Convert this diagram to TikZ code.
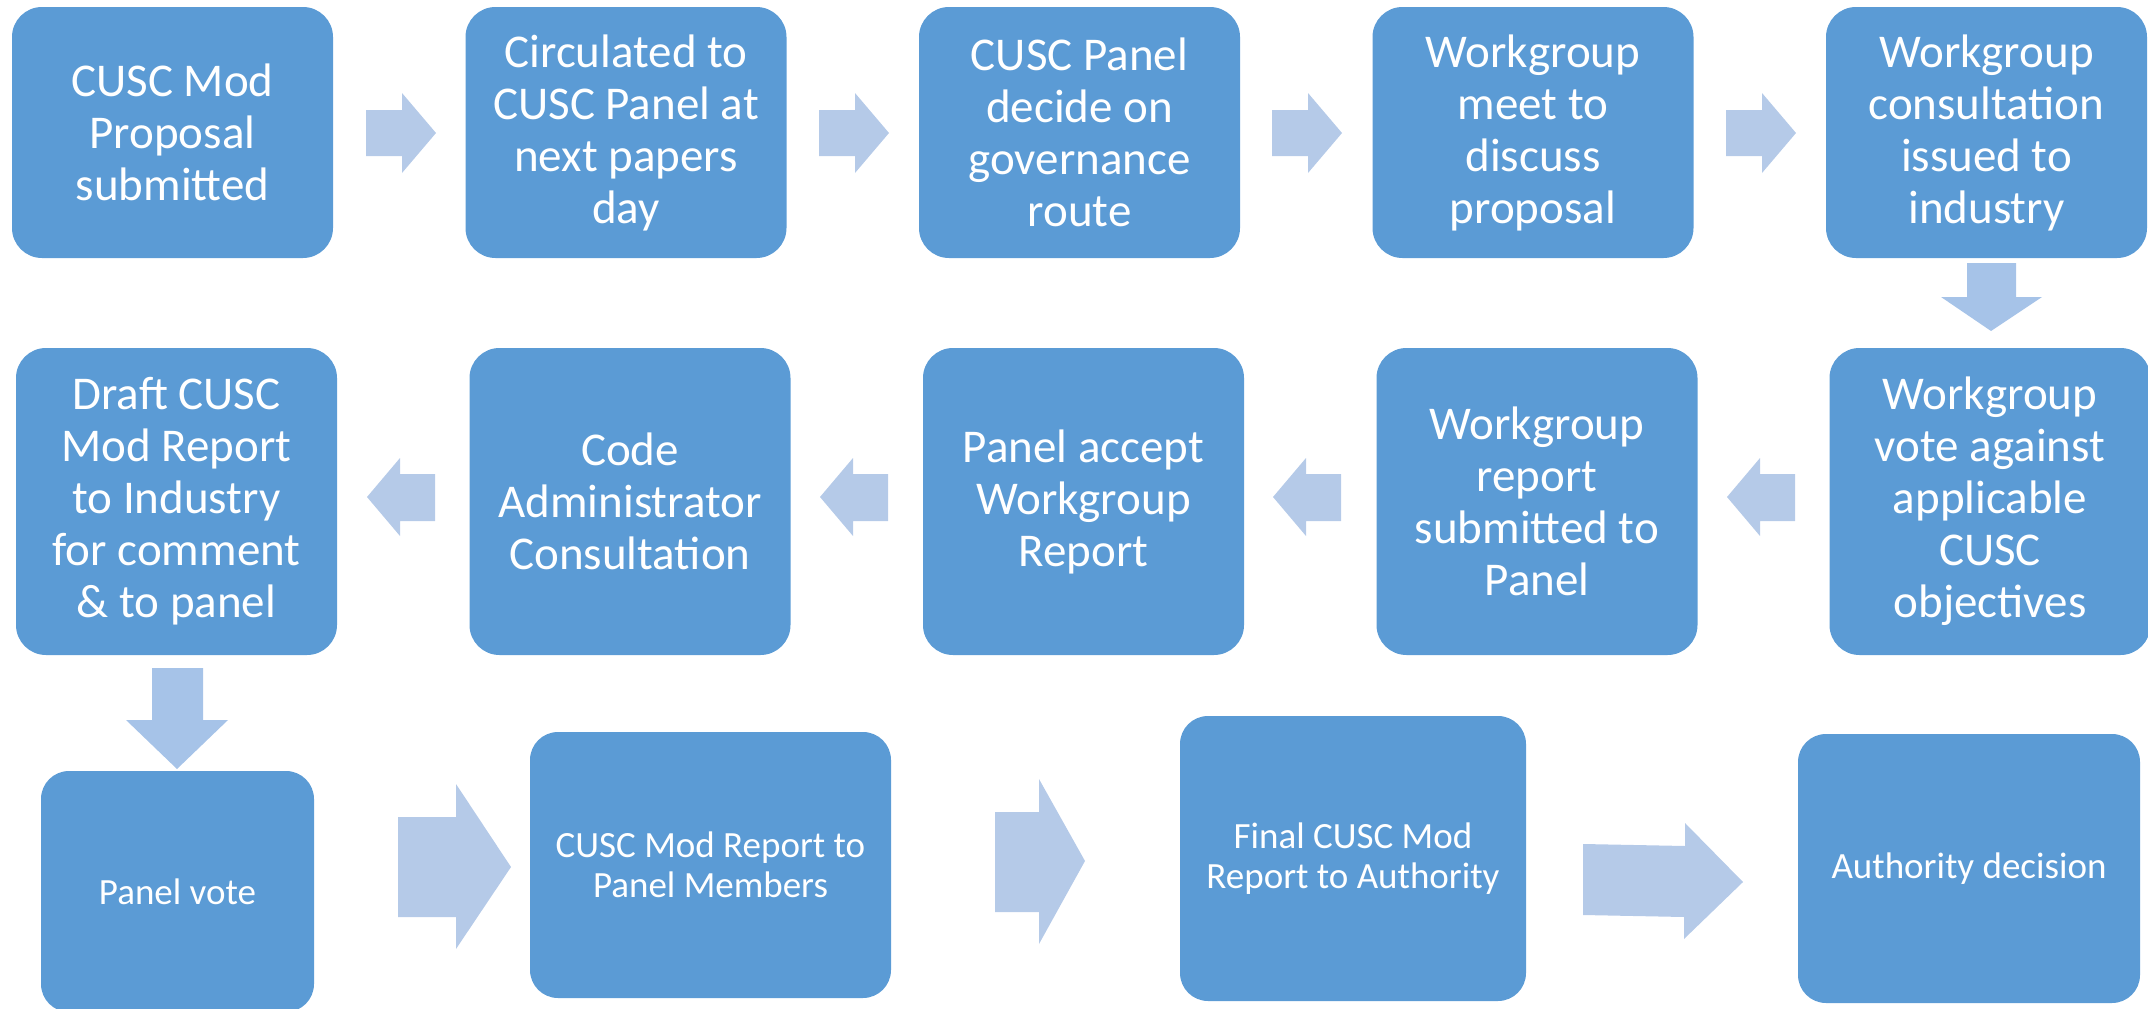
\documentclass[tikz,border=0pt]{standalone}
\usepackage{fontspec}
\setmainfont{Carlito}
\definecolor{boxblue}{HTML}{5B9BD5}
\definecolor{arrh}{HTML}{B5CAE8}
\definecolor{arrv}{HTML}{A6C3E8}
\begin{document}
\begin{tikzpicture}[x=1pt,y=-1pt,
  box/.style={fill=boxblue, rounded corners=30pt, inner sep=0pt, align=center, text=white,
    font=\fontsize{47}{52}\selectfont},
  sbox/.style={fill=boxblue, rounded corners=28pt, inner sep=0pt, align=center, text=white,
    font=\fontsize{37}{40}\selectfont},
  harr/.style={fill=arrh},
  varr/.style={fill=arrv}]
\useasboundingbox (0,0) rectangle (2148,1009);
% row 1
\node[box, minimum width=321pt, minimum height=251pt] (b1) at (172.5,132.5) {CUSC Mod\\Proposal\\submitted};
\node[box, minimum width=321pt, minimum height=251pt] (b2) at (626,132.5) {Circulated to\\CUSC Panel at\\next papers\\day};
\node[box, minimum width=321pt, minimum height=251pt] (b3) at (1079.5,132.5) {CUSC Panel\\decide on\\governance\\route};
\node[box, minimum width=321pt, minimum height=251pt] (b4) at (1533,132.5) {Workgroup\\meet to\\discuss\\proposal};
\node[box, minimum width=321pt, minimum height=251pt] (b5) at (1986.5,132.5) {Workgroup\\consultation\\issued to\\industry};
% row 2
\node[box, minimum width=321pt, minimum height=307pt] (b6) at (176.5,501.5) {Draft CUSC\\Mod Report\\to Industry\\for comment\\\& to panel};
\node[box, minimum width=321pt, minimum height=307pt] (b7) at (630,501.5) {Code\\Administrator\\Consultation};
\node[box, minimum width=321pt, minimum height=307pt] (b8) at (1083.5,501.5) {Panel accept\\Workgroup\\Report};
\node[box, minimum width=321pt, minimum height=307pt] (b9) at (1537,501.5) {Workgroup\\report\\submitted to\\Panel};
\node[box, minimum width=321pt, minimum height=307pt] (b10) at (1990,501.5) {Workgroup\\vote against\\applicable\\CUSC\\objectives};
% row 3
\node[sbox, minimum width=273pt, minimum height=241pt] (c1) at (177.5,891.5) {Panel vote};
\node[sbox, minimum width=361pt, minimum height=266pt] (c2) at (710.5,865) {CUSC Mod Report to\\Panel Members};
\node[sbox, minimum width=346pt, minimum height=285pt] (c3) at (1353,858.5) {Final CUSC Mod\\Report to Authority};
\node[sbox, minimum width=342pt, minimum height=269pt] (c4) at (1969,868.5) {Authority decision};
% row 1 arrows (right)
\foreach \d in {0,453,906,1360}{
  \fill[harr] (366+\d,110) -- (402+\d,110) -- (402+\d,93) -- (436+\d,133) -- (402+\d,173) -- (402+\d,156) -- (366+\d,156) -- cycle;
}
% row 2 arrows (left)
\foreach \d in {0,453,906,1360}{
  \fill[harr] (367+\d,497) -- (400+\d,458) -- (400+\d,474) -- (435+\d,474) -- (435+\d,521) -- (400+\d,521) -- (400+\d,536) -- cycle;
}
% down arrows
\fill[varr] (1967,263) -- (2016,263) -- (2016,297) -- (2042,297) -- (1991,331) -- (1941,297) -- (1967,297) -- cycle;
\fill[varr] (152,668) -- (203,668) -- (203,720) -- (228,720) -- (177,769) -- (126,720) -- (152,720) -- cycle;
% row 3 arrows
\fill[harr] (398,817) -- (456,817) -- (456,784) -- (511,867) -- (456,949) -- (456,917) -- (398,917) -- cycle;
\fill[harr] (995,812) -- (1039,812) -- (1039,779) -- (1085,861) -- (1039,944) -- (1039,912) -- (995,912) -- cycle;
\fill[harr] (1583,844) -- (1685,846) -- (1685,823) -- (1743,882) -- (1684,939) -- (1684,917) -- (1583,915) -- cycle;
\end{tikzpicture}
\end{document}
